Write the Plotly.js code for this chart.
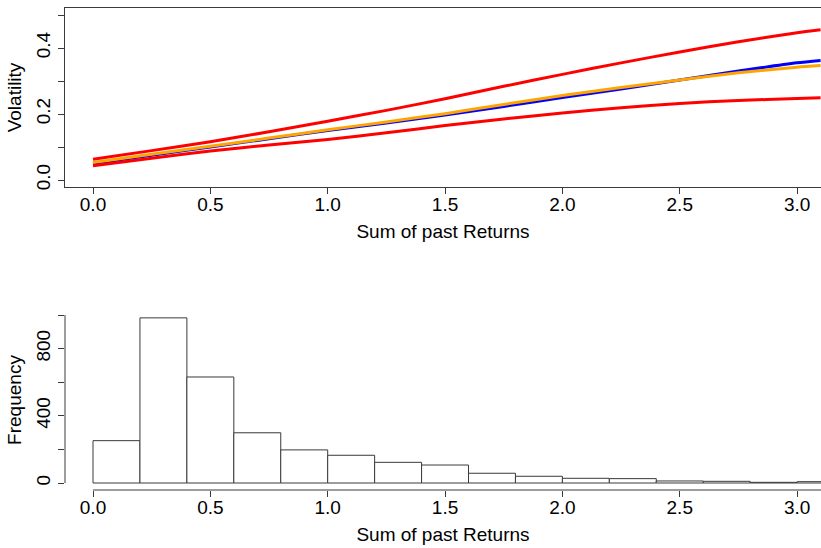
<!DOCTYPE html>
<html>
<head>
<meta charset="utf-8">
<script src="https://cdn.plot.ly/plotly-3.0.1.min.js"></script>
<style>html,body{margin:0;padding:0;background:#fff;overflow:hidden;}</style>
</head>
<body>
<div id="chart" style="width:821px;height:548px;"></div>
<script>
// ---- Top panel: volatility curves ----
const xGrid = [0, 0.25, 0.5, 0.75, 1.0, 1.25, 1.5, 1.75, 2.0, 2.25, 2.5, 2.75, 3.0, 3.1];
const volUpper = [0.063, 0.089, 0.116, 0.146, 0.178, 0.211, 0.246, 0.284, 0.320, 0.355, 0.388, 0.419, 0.446, 0.455];
const volBlue  = [0.050, 0.075, 0.100, 0.125, 0.150, 0.173, 0.197, 0.223, 0.250, 0.276, 0.303, 0.330, 0.355, 0.362];
const volOrange= [0.053, 0.078, 0.102, 0.127, 0.152, 0.176, 0.201, 0.229, 0.256, 0.280, 0.303, 0.325, 0.342, 0.347];
const volLower = [0.043, 0.066, 0.088, 0.106, 0.123, 0.143, 0.165, 0.185, 0.203, 0.219, 0.232, 0.241, 0.247, 0.249];

// ---- Bottom panel: histogram (bin edges and counts) ----
const binEdges = [0.0, 0.2, 0.4, 0.6, 0.8, 1.0, 1.2, 1.4, 1.6, 1.8, 2.0, 2.2, 2.4, 2.6, 2.8, 3.0, 3.2];
const binCounts = [252, 983, 631, 299, 197, 165, 123, 107, 58, 40, 28, 26, 12, 10, 4, 8];

// tick labels
const xTickVals = [0, 0.5, 1.0, 1.5, 2.0, 2.5, 3.0];
const xTickText = ['0.0', '0.5', '1.0', '1.5', '2.0', '2.5', '3.0'];
const yTopVals = [0, 0.1, 0.2, 0.3, 0.4, 0.5];
const yTopText = ['0.0', '', '0.2', '', '0.4', ''];
const yBotVals = [0, 200, 400, 600, 800, 1000];
const yBotText = ['0', '', '400', '', '800', ''];

const binMids = binCounts.map((c, i) => (binEdges[i] + binEdges[i + 1]) / 2);
const binWidths = binCounts.map((c, i) => binEdges[i + 1] - binEdges[i]);

const W = 821, H = 548;
const font = {family: 'Liberation Sans, Arial, sans-serif', size: 19, color: '#000'};
const lineCol = '#3a3a3a';
const smooth = {shape: 'spline', smoothing: 0.6};

const traces = [
  {x: xGrid, y: volBlue, type: 'scatter', mode: 'lines', line: Object.assign({color: '#0000ff', width: 3}, smooth), xaxis: 'x', yaxis: 'y'},
  {x: xGrid, y: volOrange, type: 'scatter', mode: 'lines', line: Object.assign({color: '#ffa500', width: 3}, smooth), xaxis: 'x', yaxis: 'y'},
  {x: xGrid, y: volUpper, type: 'scatter', mode: 'lines', line: Object.assign({color: '#ff0000', width: 3}, smooth), xaxis: 'x', yaxis: 'y'},
  {x: xGrid, y: volLower, type: 'scatter', mode: 'lines', line: Object.assign({color: '#ff0000', width: 3}, smooth), xaxis: 'x', yaxis: 'y'},
  {x: binMids, y: binCounts, width: binWidths, type: 'bar',
   marker: {color: '#ffffff', line: {color: lineCol, width: 1}}, xaxis: 'x2', yaxis: 'y2'}
];

const xRange = [(65 - 93) / 234.7, (821 - 93) / 234.7];
const dom = (top, bottom) => [1 - bottom / H, 1 - top / H];

const commonX = {
  range: xRange, domain: [65 / W, 1], tickmode: 'array', tickvals: xTickVals, ticktext: xTickText,
  ticks: 'outside', ticklen: 6, tickcolor: lineCol, tickwidth: 1, showgrid: false, zeroline: false,
  tickfont: font, automargin: false, ticklabelstandoff: -6,
  title: {text: 'Sum of past Returns', font: font, standoff: 10}
};

const layout = {
  width: W, height: H, margin: {l: 0, r: 0, t: 0, b: 0},
  paper_bgcolor: '#fff', plot_bgcolor: '#fff', showlegend: false, font: font,
  bargap: 0,
  xaxis: Object.assign({}, commonX, {anchor: 'y', showline: true, mirror: true, linecolor: lineCol, linewidth: 1}),
  yaxis: {
    range: [(180 - 187) / 330, (180 - 8) / 330], domain: dom(8, 187), anchor: 'x',
    tickmode: 'array', tickvals: yTopVals, ticktext: yTopText, tickangle: -90,
    ticks: 'outside', ticklen: 6, tickcolor: lineCol, showgrid: false, zeroline: false,
    showline: true, linecolor: lineCol, linewidth: 1, tickfont: font, automargin: false,
    title: {text: 'Volatility', font: font, standoff: 6}
  },
  xaxis2: Object.assign({}, commonX, {anchor: 'y2', showline: false}),
  yaxis2: {
    range: [-(490 - 483) / 0.168, (483 - 310) / 0.168], domain: dom(310, 490), anchor: 'x2',
    tickmode: 'array', tickvals: yBotVals, ticktext: yBotText, tickangle: -90,
    ticks: 'outside', ticklen: 6, tickcolor: lineCol, showgrid: false, zeroline: false,
    showline: false, tickfont: font, automargin: false,
    title: {text: 'Frequency', font: font, standoff: 6}
  },
  shapes: [
    {type: 'line', xref: 'x2 domain', yref: 'y2', x0: 0, x1: 0, y0: yBotVals[0], y1: yBotVals[yBotVals.length - 1], line: {color: lineCol, width: 1}},
    {type: 'line', xref: 'x2', yref: 'y2 domain', x0: xTickVals[0], x1: 3.6, y0: 0, y1: 0, line: {color: lineCol, width: 1}}
  ]
};

Plotly.newPlot('chart', traces, layout, {staticPlot: true, displayModeBar: false});
</script>
</body>
</html>
